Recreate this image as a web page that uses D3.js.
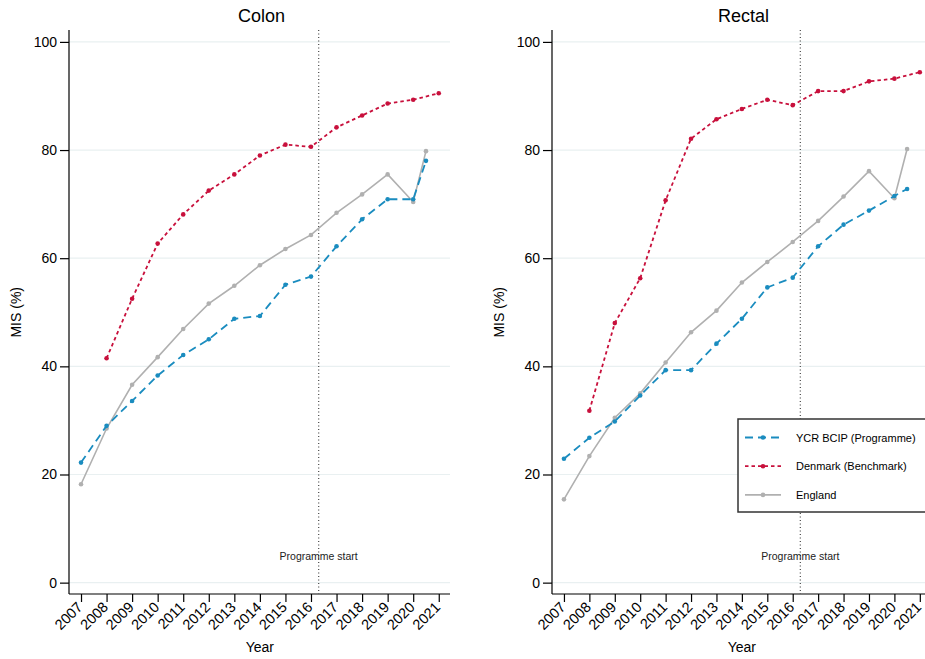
<!DOCTYPE html>
<html>
<head>
<meta charset="utf-8">
<script src="https://cdn.jsdelivr.net/npm/d3@7"></script>
<style>
  body { margin: 0; background: #fff; }
  svg { font-family: "Liberation Sans", Arial, Helvetica, sans-serif; }
</style>
</head>
<body>
<div id="chart"></div>
<script>
// years; last programme/England point is a half-year (2020.5)
var yearsMain = [2007, 2008, 2009, 2010, 2011, 2012, 2013, 2014, 2015, 2016, 2017, 2018, 2019, 2020, 2020.5];
var yearsDenmark = [2008, 2009, 2010, 2011, 2012, 2013, 2014, 2015, 2016, 2017, 2018, 2019, 2020, 2021];
var tickYears = [2007, 2008, 2009, 2010, 2011, 2012, 2013, 2014, 2015, 2016, 2017, 2018, 2019, 2020, 2021];
var yTicks = [0, 20, 40, 60, 80, 100];
var programmeStart = 2016.3;

var colonYCR = [22.2, 29.0, 33.6, 38.3, 42.1, 45.0, 48.8, 49.3, 55.1, 56.6, 62.2, 67.2, 70.9, 70.9, 78.0];
var colonEngland = [18.2, 28.5, 36.6, 41.7, 46.9, 51.6, 54.9, 58.7, 61.7, 64.3, 68.4, 71.8, 75.5, 70.4, 79.8];
var colonDenmark = [41.5, 52.5, 62.7, 68.1, 72.5, 75.5, 79.0, 81.0, 80.6, 84.2, 86.4, 88.6, 89.3, 90.5];

var rectalYCR = [22.9, 26.8, 29.8, 34.6, 39.3, 39.3, 44.2, 48.8, 54.6, 56.4, 62.2, 66.2, 68.8, 71.5, 72.8];
var rectalEngland = [15.4, 23.4, 30.5, 35.0, 40.7, 46.3, 50.3, 55.5, 59.3, 63.0, 66.9, 71.4, 76.1, 71.1, 80.2];
var rectalDenmark = [31.8, 48.0, 56.3, 70.7, 82.1, 85.7, 87.6, 89.3, 88.3, 90.9, 90.9, 92.7, 93.2, 94.4];

var seriesNames = ["YCR BCIP (Programme)", "Denmark (Benchmark)", "England"];
var colors = { ycr: "#1a8cbf", den: "#c8103c", eng: "#b0b0b0" };

var W = 925, H = 659;
var svg = d3.select("#chart").append("svg").attr("width", W).attr("height", H);

function drawPanel(left, right, title, ycr, eng, den) {
    var top = 30, bottom = 594;
    var x = d3.scaleLinear().domain([2006.53, 2021.44]).range([left, right]);
    var y = d3.scaleLinear().domain([-2.1, 102.2]).range([bottom, top]);
    var g = svg.append("g");

    // gridlines
    g.selectAll(".grid").data(yTicks).enter().append("line")
        .attr("x1", left).attr("x2", right)
        .attr("y1", function (d) { return y(d); }).attr("y2", function (d) { return y(d); })
        .attr("stroke", "#e9f0f1").attr("stroke-width", 1.2);

    // axes
    var yAxis = g.append("g").attr("transform", "translate(" + left + ",0)")
        .call(d3.axisLeft(y).tickValues(yTicks).tickSize(9).tickPadding(3));
    yAxis.selectAll("text").attr("font-size", 14).attr("fill", "#000");
    yAxis.select(".domain").attr("d", "M0," + top + "V" + bottom).attr("stroke", "#000").attr("stroke-width", 1.2);
    yAxis.selectAll(".tick line").attr("stroke", "#000").attr("stroke-width", 1.2);

    var xAxis = g.append("g").attr("transform", "translate(0," + bottom + ")")
        .call(d3.axisBottom(x).tickValues(tickYears).tickFormat(d3.format("d")).tickSize(8));
    xAxis.select(".domain").attr("d", "M" + left + ",0H" + right).attr("stroke", "#000").attr("stroke-width", 1.2);
    xAxis.selectAll(".tick line").attr("stroke", "#000").attr("stroke-width", 1.2);
    xAxis.selectAll("text")
        .attr("font-size", 14.5).attr("fill", "#000")
        .attr("text-anchor", "end")
        .attr("x", 0).attr("y", 0).attr("dx", 0).attr("dy", 0)
        .attr("transform", "translate(2,14) rotate(-45)");

    // title and axis labels
    g.append("text").attr("x", (left + right) / 2 + 2).attr("y", 22)
        .attr("text-anchor", "middle").attr("font-size", 18).text(title);
    g.append("text").attr("transform", "translate(" + (left - 48) + "," + y(50) + ") rotate(-90)")
        .attr("text-anchor", "middle").attr("font-size", 14).text("MIS (%)");
    g.append("text").attr("x", x(2014)).attr("y", 652)
        .attr("text-anchor", "middle").attr("font-size", 14).text("Year");

    // programme start
    g.append("line").attr("x1", x(programmeStart)).attr("x2", x(programmeStart))
        .attr("y1", top).attr("y2", bottom)
        .attr("stroke", "#555").attr("stroke-width", 1.3).attr("stroke-dasharray", "1,2.5");
    g.append("text").attr("x", x(programmeStart)).attr("y", 560)
        .attr("text-anchor", "middle").attr("font-size", 10.5).attr("fill", "#222").text("Programme start");

    var line = d3.line().x(function (d) { return x(d[0]); }).y(function (d) { return y(d[1]); });

    function series(xs, vals, color, dash, width) {
        var pts = d3.zip(xs, vals);
        g.append("path").datum(pts).attr("d", line).attr("fill", "none")
            .attr("stroke", color).attr("stroke-width", width).attr("stroke-dasharray", dash);
        g.selectAll(null).data(pts).enter().append("circle")
            .attr("cx", function (d) { return x(d[0]); }).attr("cy", function (d) { return y(d[1]); })
            .attr("r", 2.3).attr("fill", color);
    }
    series(yearsMain, eng, colors.eng, null, 1.6);
    series(yearsMain, ycr, colors.ycr, "8,5", 1.8);
    series(yearsDenmark, den, colors.den, "3.5,3", 1.8);
}

drawPanel(69, 450, "Colon", colonYCR, colonEngland, colonDenmark);
drawPanel(552, 931, "Rectal", rectalYCR, rectalEngland, rectalDenmark);

// legend
var legend = svg.append("g");
legend.append("rect").attr("x", 738).attr("y", 419).attr("width", 200).attr("height", 93)
    .attr("fill", "#fff").attr("stroke", "#333").attr("stroke-width", 1.5);
var legendStyles = [
    { color: colors.ycr, dash: "8,5" },
    { color: colors.den, dash: "3.5,3" },
    { color: colors.eng, dash: null }
];
seriesNames.forEach(function (name, i) {
    var ly = 437.5 + i * 28.7;
    legend.append("line").attr("x1", 745).attr("x2", 781).attr("y1", ly).attr("y2", ly)
        .attr("stroke", legendStyles[i].color).attr("stroke-width", 1.8)
        .attr("stroke-dasharray", legendStyles[i].dash);
    legend.append("circle").attr("cx", 763).attr("cy", ly).attr("r", 2.3).attr("fill", legendStyles[i].color);
    legend.append("text").attr("x", 796).attr("y", ly + 4).attr("font-size", 11).text(name);
});
</script>
</body>
</html>
